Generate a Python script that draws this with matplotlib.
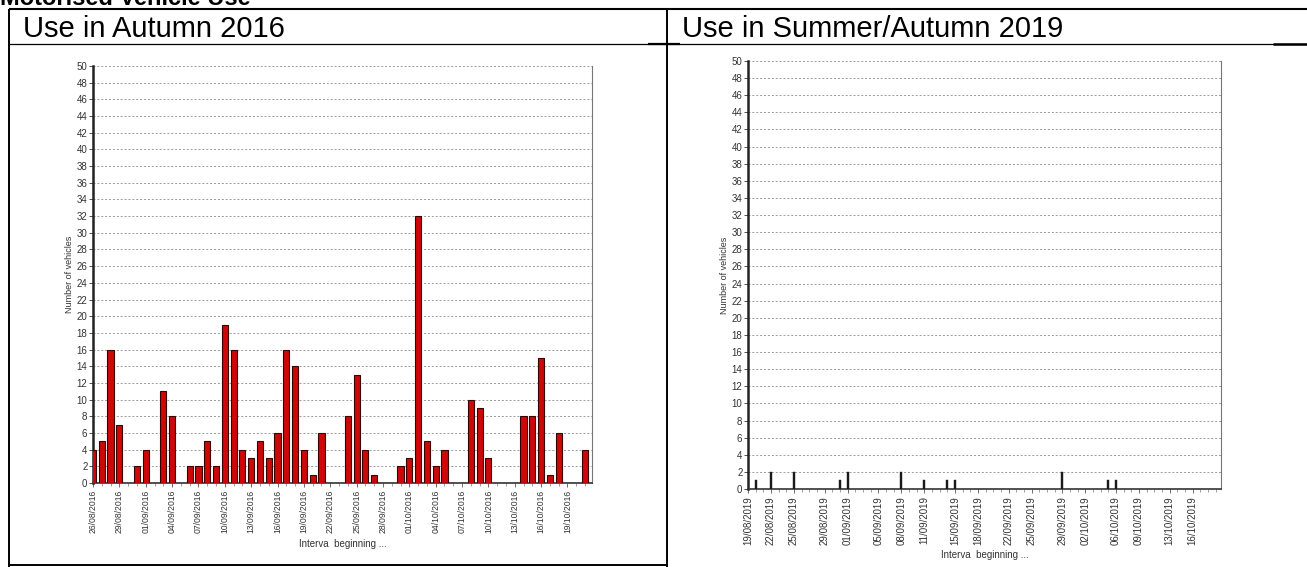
import matplotlib
matplotlib.use('Agg')
import matplotlib.pyplot as plt
import matplotlib.dates as mdates
from matplotlib.ticker import MultipleLocator
import pandas as pd

plt.rcParams['font.family'] = ['Liberation Sans', 'DejaVu Sans']

# Autumn 2016: vehicles per day, 26/08/2016 .. 21/10/2016
days_2016 = pd.date_range('2016-08-26', '2016-10-21', freq='D')
counts_2016 = [4, 5, 16, 7, 0, 2, 4, 0, 11, 8,
               0, 2, 2, 5, 2, 19, 16, 4, 3, 5,
               3, 6, 16, 14, 4, 1, 6, 0, 0, 8,
               13, 4, 1, 0, 0, 2, 3, 32, 5, 2,
               4, 0, 0, 10, 9, 3, 0, 0, 0, 8,
               8, 15, 1, 6, 0, 0, 4]
ticks_2016 = ['26/08/2016', '29/08/2016', '01/09/2016', '04/09/2016', '07/09/2016',
              '10/09/2016', '13/09/2016', '16/09/2016', '19/09/2016', '22/09/2016',
              '25/09/2016', '28/09/2016', '01/10/2016', '04/10/2016', '07/10/2016',
              '10/10/2016', '13/10/2016', '16/10/2016', '19/10/2016']

# Summer/Autumn 2019: only the days that had any vehicles
days_2019 = ['20/08/2019', '22/08/2019', '25/08/2019', '31/08/2019', '01/09/2019',
             '08/09/2019', '11/09/2019', '14/09/2019', '15/09/2019', '29/09/2019',
             '05/10/2019', '06/10/2019']
counts_2019 = [1, 2, 2, 1, 2, 2, 1, 1, 1, 2, 1, 1]
ticks_2019 = ['19/08/2019', '22/08/2019', '25/08/2019', '29/08/2019', '01/09/2019',
              '05/09/2019', '08/09/2019', '11/09/2019', '15/09/2019', '18/09/2019',
              '22/09/2019', '25/09/2019', '29/09/2019', '02/10/2019', '06/10/2019',
              '09/10/2019', '13/10/2019', '16/10/2019']

W, H = 1307, 567
fig = plt.figure(figsize=(W / 100, H / 100), dpi=100)
fig.patch.set_facecolor('white')

# page layer in pixel coordinates (table borders, headings)
page = fig.add_axes([0, 0, 1, 1], zorder=-1)
page.set_xlim(0, W)
page.set_ylim(H, 0)
page.axis('off')
line_kw = dict(color='black', solid_capstyle='butt')
page.plot([9, W], [9, 9], lw=1.5, **line_kw)
page.plot([9, 9], [9, H], lw=1.4, **line_kw)
page.plot([667, 667], [9, H], lw=1.4, **line_kw)
page.plot([9, W], [44, 44], lw=0.9, **line_kw)
page.plot([648, 680], [44, 44], lw=1.6, **line_kw)
page.plot([1273, W], [44, 44], lw=1.8, **line_kw)
page.plot([9, 667], [565, 565], lw=1.4, **line_kw)
page.text(0, 5, 'Motorised Vehicle Use', fontsize=17, fontweight='bold',
          va='baseline', ha='left')
page.text(23, 37, 'Use in Autumn 2016', fontsize=21, va='baseline', ha='left')
page.text(682, 37, 'Use in Summer/Autumn 2019', fontsize=21, va='baseline', ha='left')


def style_axes(ax, tick_size):
    ax.set_facecolor('white')
    ax.set_ylim(0, 50)
    ax.yaxis.set_major_locator(MultipleLocator(2))
    ax.grid(axis='y', linestyle=(0, (2, 2)), color='#9a9a9a', lw=0.7)
    ax.set_axisbelow(True)
    ax.spines['top'].set_visible(False)
    ax.spines['right'].set_color('#777777')
    ax.spines['right'].set_linewidth(0.8)
    ax.spines['left'].set_color('#222222')
    ax.spines['left'].set_linewidth(1.8)
    ax.spines['bottom'].set_color('#333333')
    ax.spines['bottom'].set_linewidth(1.2)
    ax.xaxis.set_minor_locator(mdates.DayLocator())
    ax.tick_params(axis='y', labelsize=7, colors='#333333', length=3, width=0.6, pad=1)
    ax.tick_params(axis='x', which='major', labelsize=tick_size, labelcolor='#333333',
                   color='#555555', length=3, width=0.6, pad=2, labelrotation=90)
    ax.tick_params(axis='x', which='minor', color='#777777', length=2, width=0.5)
    ax.xaxis.set_major_formatter(mdates.DateFormatter('%d/%m/%Y'))
    ax.set_ylabel('Number of vehicles', fontsize=6.5, color='#333333', labelpad=2)
    ax.set_xlabel('Interva  beginning ...', fontsize=7, color='#333333', labelpad=4)


# Autumn 2016
ax1 = fig.add_axes([93 / W, 1 - 483 / H, (592 - 93) / W, (483 - 66) / H])
ax1.bar(days_2016, counts_2016, width=0.7, color='#cc0808', edgecolor='#3a0000',
        linewidth=0.8, zorder=3)
ax1.set_xlim(days_2016[0], days_2016[-1] + pd.Timedelta(hours=19))
ax1.set_xticks(pd.to_datetime(ticks_2016, format='%d/%m/%Y'))
style_axes(ax1, 6.2)

# Summer/Autumn 2019
ax2 = fig.add_axes([748 / W, 1 - 489 / H, (1221 - 748) / W, (489 - 61) / H])
x19 = pd.to_datetime(days_2019, format='%d/%m/%Y')
ax2.bar(x19, counts_2019, width=0.25, color='#1a1a1a', edgecolor='#1a1a1a',
        linewidth=0.3, zorder=3)
ax2.set_xlim(pd.Timestamp('2019-08-19'), pd.Timestamp('2019-10-19') + pd.Timedelta(hours=17))
ax2.set_xticks(pd.to_datetime(ticks_2019, format='%d/%m/%Y'))
style_axes(ax2, 7)

fig.savefig('out.png', dpi=100, facecolor='white')
